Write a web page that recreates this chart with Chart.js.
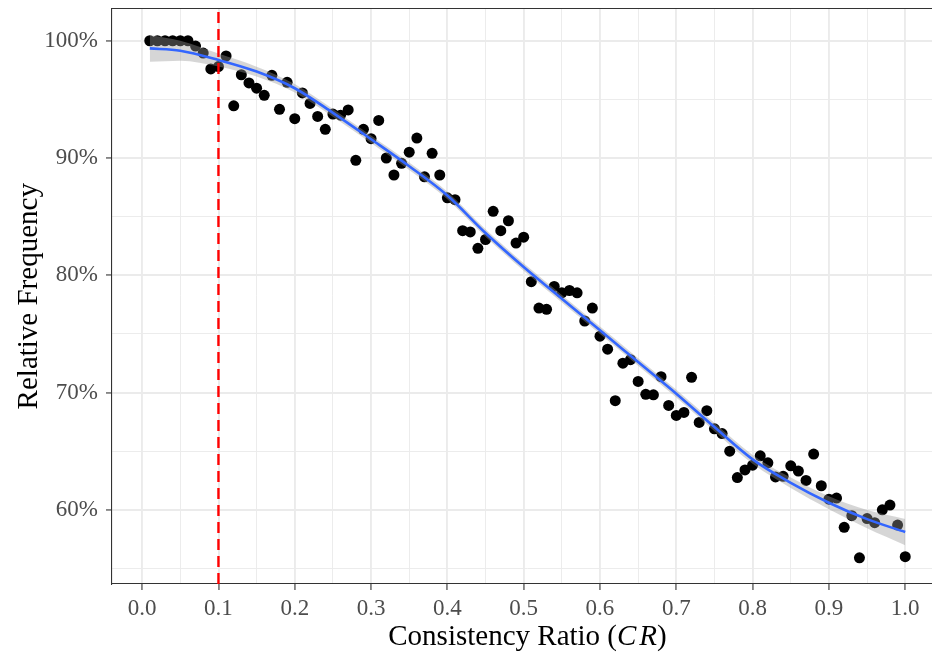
<!DOCTYPE html>
<html>
<head>
<meta charset="utf-8">
<script src="https://cdn.jsdelivr.net/npm/chart.js@4.4.0/dist/chart.umd.min.js"></script>
<style>
html,body{margin:0;padding:0;overflow:hidden;background:#fff;width:932px;height:654px}
#wrap{position:absolute;left:0;top:0;width:943px;height:654px}
</style>
</head>
<body>
<div id="wrap"><canvas id="c" width="943" height="654"></canvas></div>
<script>
// ---------- data ----------
const crValues = [
  0.01,0.02,0.03,0.04,0.05,0.06,0.07,0.08,0.09,0.10,
  0.11,0.12,0.13,0.14,0.15,0.16,0.17,0.18,0.19,0.20,
  0.21,0.22,0.23,0.24,0.25,0.26,0.27,0.28,0.29,0.30,
  0.31,0.32,0.33,0.34,0.35,0.36,0.37,0.38,0.39,0.40,
  0.41,0.42,0.43,0.44,0.45,0.46,0.47,0.48,0.49,0.50,
  0.51,0.52,0.53,0.54,0.55,0.56,0.57,0.58,0.59,0.60,
  0.61,0.62,0.63,0.64,0.65,0.66,0.67,0.68,0.69,0.70,
  0.71,0.72,0.73,0.74,0.75,0.76,0.77,0.78,0.79,0.80,
  0.81,0.82,0.83,0.84,0.85,0.86,0.87,0.88,0.89,0.90,
  0.91,0.92,0.93,0.94,0.95,0.96,0.97,0.98,0.99,1.00
];
const relFreq = [
  100,100,100,100,100,100,99.55,98.95,97.6,97.8,
  98.7,94.45,97.1,96.4,95.95,95.35,97.05,94.15,96.45,93.35,
  95.55,94.65,93.55,92.45,93.75,93.65,94.1,89.8,92.45,91.65,
  93.2,90.0,88.55,89.55,90.5,91.7,88.4,90.4,88.55,86.6,
  86.45,83.8,83.7,82.3,83.05,85.45,83.8,84.65,82.75,83.25,
  79.45,77.2,77.1,79.05,78.5,78.7,78.5,76.1,77.2,74.8,
  73.7,69.3,72.5,72.8,70.95,69.85,69.8,71.35,68.9,68.05,
  68.3,71.3,67.45,68.45,66.9,66.5,65.0,62.75,63.4,63.8,
  64.6,64.0,62.8,62.85,63.75,63.3,62.5,64.75,62.05,60.9,
  61.0,58.5,59.5,55.9,59.25,58.9,60.0,60.4,58.7,56.0
];
// smooth (loess) fit
const fitX  = [0.01,0.05,0.10,0.15,0.20,0.25,0.30,0.35,0.40,0.45,0.50,0.55,0.60,0.65,0.70,0.75,0.80,0.85,0.90,0.95,1.00];
const fitY  = [99.35,99.15,98.36,97.37,95.95,93.85,91.6,89.3,86.8,83.6,80.7,78.0,75.3,72.6,69.9,67.05,64.3,62.3,60.6,59.2,58.1];
const fitSE = [1.15,0.85,0.55,0.42,0.36,0.33,0.32,0.32,0.32,0.32,0.32,0.32,0.32,0.32,0.33,0.35,0.38,0.45,0.55,0.78,1.12];

const xMajorTicks  = [0.0,0.1,0.2,0.3,0.4,0.5,0.6,0.7,0.8,0.9,1.0];
const xTickLabels  = ['0.0','0.1','0.2','0.3','0.4','0.5','0.6','0.7','0.8','0.9','1.0'];
const xMinorTicks  = [0.05,0.15,0.25,0.35,0.45,0.55,0.65,0.75,0.85,0.95];
const yMajorTicks  = [60,70,80,90,100];
const yTickLabels  = ['60%','70%','80%','90%','100%'];
const yMinorTicks  = [55,65,75,85,95];
const crThreshold  = 0.1;

const xLimits = [-0.0395, 1.0495];
const yLimits = [53.67, 102.75];

const yTitle = 'Relative Frequency';
const xTitleParts = [
  {t:'Consistency Ratio (', italic:false},
  {t:'C', italic:true},
  {t:'R', italic:true, gap:3},
  {t:')', italic:false}
];

// ---------- chart ----------
const FONT = '"Liberation Serif", "Times New Roman", serif';
const near = (a,b)=>Math.abs(a-b)<1e-6;
const isMajor = (arr,v)=>arr.some(m=>near(m,v));
const labelFor = (arr,labels,v)=>{const i=arr.findIndex(m=>near(m,v));return i>=0?labels[i]:'';};

const decor = {
  id:'decor',
  afterDraw(chart){
    const {ctx, chartArea:a} = chart;
    ctx.save();
    ctx.strokeStyle='#333333'; ctx.lineWidth=1.1;
    ctx.beginPath(); ctx.moveTo(a.left, a.top); ctx.lineTo(a.right+2, a.top); ctx.stroke();
    ctx.restore();

    // y title
    ctx.save();
    ctx.fillStyle='#000';
    ctx.font = '29px ' + FONT;
    ctx.textAlign='center'; ctx.textBaseline='alphabetic';
    ctx.translate(37, (a.top+a.bottom)/2);
    ctx.rotate(-Math.PI/2);
    ctx.fillText(yTitle,0,0);
    ctx.restore();

    // x title (mixed italic)
    ctx.save();
    ctx.fillStyle='#000'; ctx.textBaseline='alphabetic'; ctx.textAlign='left';
    let total=0;
    const widths = xTitleParts.map(p=>{
      ctx.font=(p.italic?'italic ':'')+'29px '+FONT;
      const w=ctx.measureText(p.t).width + (p.gap||0);
      total+=w; return w;
    });
    let x=(a.left+a.right)/2 - total/2;
    xTitleParts.forEach((p,i)=>{
      ctx.font=(p.italic?'italic ':'')+'29px '+FONT;
      ctx.fillText(p.t, x+(p.gap||0), 645);
      x+=widths[i];
    });
    ctx.restore();
  }
};

const upper = fitY.map((v,i)=>({x:fitX[i], y:v+fitSE[i]}));
const lower = fitY.map((v,i)=>({x:fitX[i], y:v-fitSE[i]}));
const fitLine = fitY.map((v,i)=>({x:fitX[i], y:v}));
const pts = crValues.map((x,i)=>({x, y:relFreq[i]}));

new Chart(document.getElementById('c'), {
  type:'scatter',
  data:{
    datasets:[
      {label:'points', data:pts, order:4, showLine:false,
       pointRadius:5.5, pointHoverRadius:5.5, pointBackgroundColor:'#000', pointBorderWidth:0, borderWidth:0},
      {label:'upper', type:'line', data:upper, order:3, pointRadius:0, borderWidth:0,
       borderColor:'rgba(0,0,0,0)', backgroundColor:'rgba(153,153,153,0.4)', fill:'+1', cubicInterpolationMode:'monotone'},
      {label:'lower', type:'line', data:lower, order:3, pointRadius:0, borderWidth:0,
       borderColor:'rgba(0,0,0,0)', fill:false, cubicInterpolationMode:'monotone'},
      {label:'fit', type:'line', data:fitLine, order:2, pointRadius:0, borderWidth:2.6,
       borderColor:'#3366FF', fill:false, cubicInterpolationMode:'monotone'},
      {label:'cr', type:'line', data:[{x:crThreshold,y:yLimits[0]},{x:crThreshold,y:yLimits[1]}], order:1,
       pointRadius:0, borderWidth:2.4, borderColor:'#FF0000', borderDash:[11,6], fill:false}
    ]
  },
  options:{
    responsive:false, animation:false,
    layout:{autoPadding:false, padding:{top:8.5,left:0,right:0,bottom:0}},
    plugins:{legend:{display:false}, tooltip:{enabled:false}},
    scales:{
      x:{
        type:'linear', min:xLimits[0], max:xLimits[1],
        afterBuildTicks:(s)=>{s.ticks=[...xMajorTicks,...xMinorTicks].sort((a,b)=>a-b).map(v=>({value:v}));},
        afterFit:(s)=>{s.height=70; s.paddingLeft=0; s.paddingRight=0;},
        ticks:{autoSkip:false, maxRotation:0, padding:5, color:'#4d4d4d', font:{family:FONT,size:23},
          callback:(v)=>labelFor(xMajorTicks,xTickLabels,v)},
        grid:{
          color:(c)=>'#ebebeb',
          lineWidth:(c)=>c.tick && isMajor(xMajorTicks,c.tick.value)?1.9:0.95,
          tickColor:(c)=>c.tick && isMajor(xMajorTicks,c.tick.value)?'#333333':'rgba(0,0,0,0)',
          tickLength:6, tickWidth:1.1, drawTicks:true
        },
        border:{display:true,color:'#333333',width:1.1}
      },
      y:{
        type:'linear', min:yLimits[0], max:yLimits[1],
        afterBuildTicks:(s)=>{s.ticks=[...yMajorTicks,...yMinorTicks].sort((a,b)=>a-b).map(v=>({value:v}));},
        afterFit:(s)=>{s.width=112; s.paddingTop=0; s.paddingBottom=0;},
        ticks:{autoSkip:false, padding:8, color:'#4d4d4d', font:{family:FONT,size:23},
          callback:(v)=>labelFor(yMajorTicks,yTickLabels,v)},
        grid:{
          color:(c)=>'#ebebeb',
          lineWidth:(c)=>c.tick && isMajor(yMajorTicks,c.tick.value)?1.9:0.95,
          tickColor:(c)=>c.tick && isMajor(yMajorTicks,c.tick.value)?'#333333':'rgba(0,0,0,0)',
          tickLength:6, tickWidth:1.1, drawTicks:true
        },
        border:{display:true,color:'#333333',width:1.1}
      }
    }
  },
  plugins:[decor]
});
</script>
</body>
</html>
